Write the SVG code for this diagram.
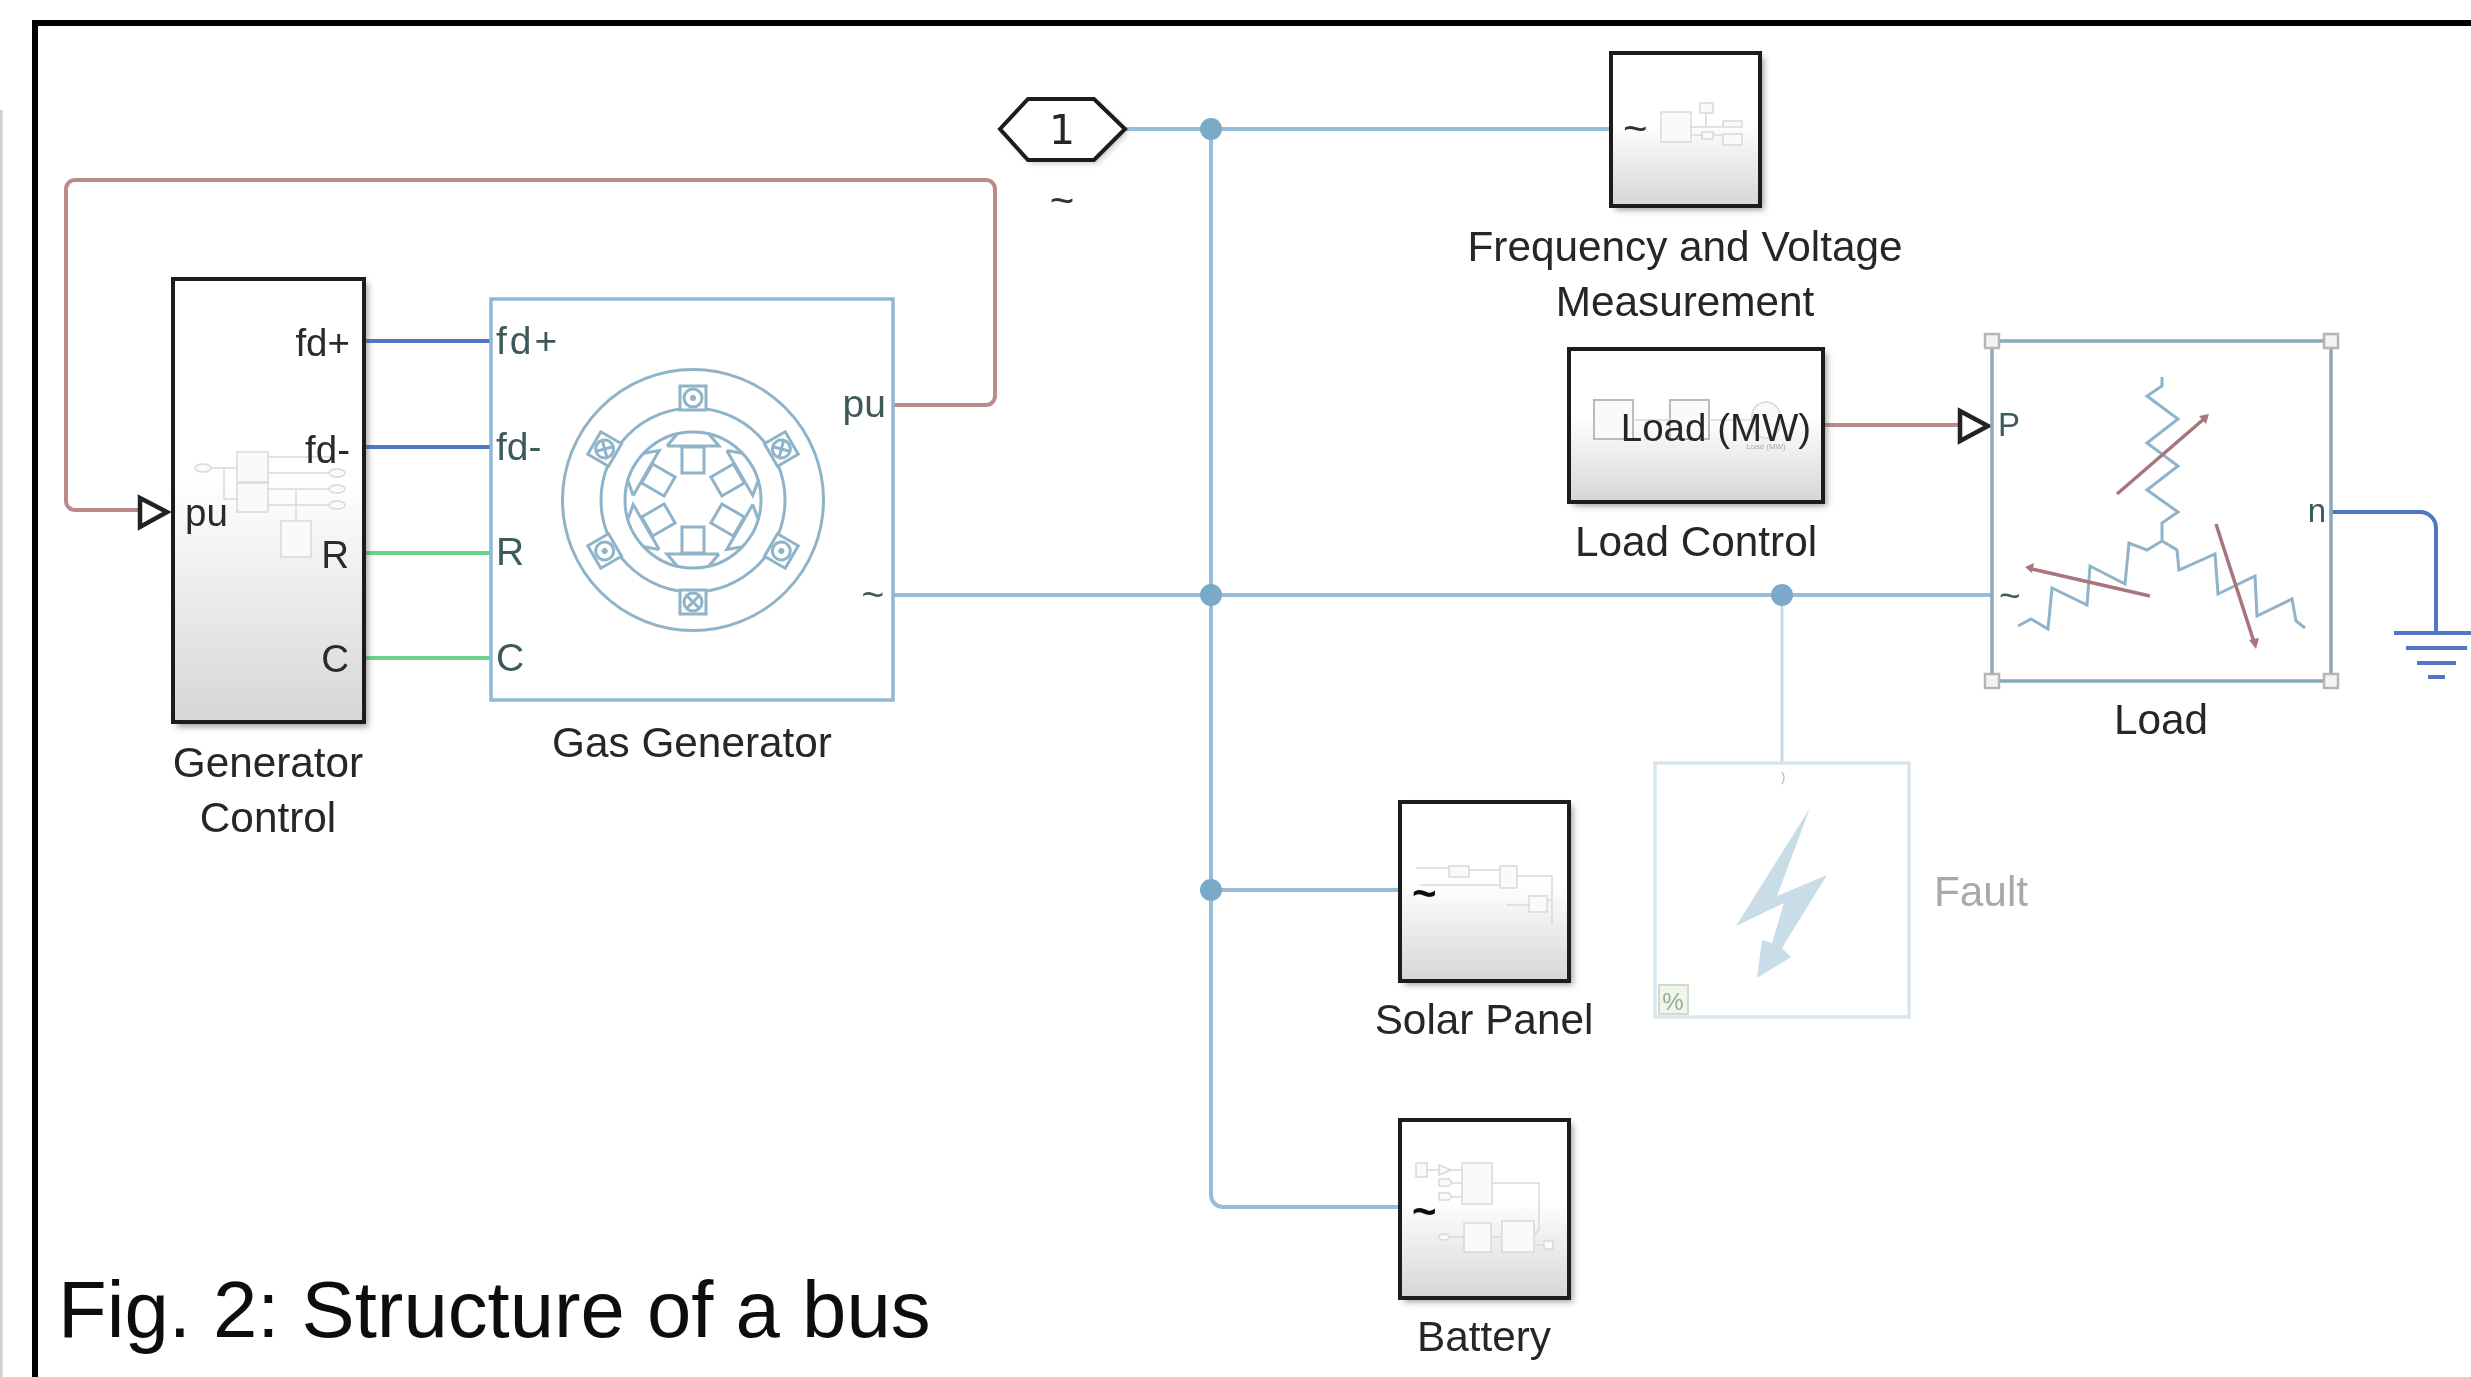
<svg xmlns="http://www.w3.org/2000/svg" width="2471" height="1377" viewBox="0 0 2471 1377">
<style>
text{font-family:"Liberation Sans",Arial,sans-serif;fill:#262626;font-size:42.300px}
.c{text-anchor:middle}.r{text-anchor:end}
.port{font-size:39px;fill:#3d5a5a}
.pb{font-size:38.500px;fill:#2a2a2a}
.tl{font-size:42px;fill:#333}
.sub{fill:url(#g);stroke:#1c1c1c;stroke-width:4}
.shadow{fill:#555;opacity:.55;filter:url(#b)}
.bus{fill:none;stroke:#96bdd7;stroke-width:4}
.red{fill:none;stroke:#bc8a8b;stroke-width:4}
.blue{fill:none;stroke:#4f77c6;stroke-width:4}
.green{fill:none;stroke:#6ad488;stroke-width:4}
.ln{fill:none;stroke:#8fb3c8;stroke-width:3}
.m{fill:none;stroke:#d9d9d9;stroke-width:1.5}
.mf{fill:#fafafa;stroke:#d9d9d9;stroke-width:1.5}
.inp{fill:#fff;stroke:#222;stroke-width:4.5}
.dot{fill:#7aa9c9}
.ra{fill:none;stroke:#a9757c;stroke-width:3.5}
.rh{fill:#a9757c}
.h{fill:#f4f4f4;stroke:#b5b5b5;stroke-width:2.5}
</style>
<defs>
<linearGradient id="g" x1="0" y1="0" x2="0" y2="1"><stop offset="0" stop-color="#fff"/><stop offset=".45" stop-color="#fff"/><stop offset="1" stop-color="#d6d6d6"/></linearGradient>
<filter id="b" x="-10%" y="-10%" width="120%" height="120%"><feGaussianBlur stdDeviation="3"/></filter>
<filter id="soft" filterUnits="userSpaceOnUse" x="0" y="0" width="2471" height="1377"><feGaussianBlur stdDeviation="0.7"/></filter>
<g id="poleDot"><rect x="-13" y="-12" width="26" height="24" fill="#fff" stroke="#8fb3c8" stroke-width="3"/><circle r="9" class="ln"/><circle r="3" fill="#8fb3c8"/></g>
<g id="poleX"><rect x="-13" y="-12" width="26" height="24" fill="#fff" stroke="#8fb3c8" stroke-width="3"/><circle r="9" class="ln"/><path d="M-6-6L6 6M6-6L-6 6" class="ln"/></g>
<g id="slot"><rect x="-11" y="-53" width="22" height="26" class="ln"/><path d="M-26-54H26L15-67M-26-54L-15-67" class="ln"/></g>
</defs>
<rect width="2471" height="1377" fill="#fff"/>
<g id="diagram" filter="url(#soft)">
<path d="M1 110V1377" stroke="#d0d0d0" stroke-width="3" fill="none"/>
<path id="frame" d="M2471 23H35V1377" fill="none" stroke="#000" stroke-width="6"/>

<g id="connectors">
<path class="red" d="M893 405H986a9 9 0 0 0 9-9V189a9 9 0 0 0-9-9H75a9 9 0 0 0-9 9V501a9 9 0 0 0 9 9H139"/>
<path class="blue" d="M364 341H491M364 447H491"/>
<path class="green" d="M364 553H491M364 658H491"/>
<path class="bus" d="M893 595H1992"/>
<path class="bus" d="M1125 129H1611"/>
<path class="bus" d="M1211 129V1195a12 12 0 0 0 12 12H1400"/>
<path class="bus" d="M1211 890H1400"/>
<path d="M1782 595V763" fill="none" stroke="#c4d9e6" stroke-width="3"/>
<path class="red" d="M1823 425H1958"/>
<path class="blue" d="M2331 512H2420a16 16 0 0 1 16 16V633"/>
<circle class="dot" cx="1211" cy="129" r="11"/>
<circle class="dot" cx="1211" cy="595" r="11"/>
<circle class="dot" cx="1211" cy="890" r="11"/>
<circle class="dot" cx="1782" cy="595" r="11"/>
</g>

<g id="generator-control">
<rect class="shadow" x="177" y="283" width="191" height="444"/>
<rect class="sub" x="173" y="279" width="191" height="443"/>
<g class="mini">
<path class="m" d="M211 468H237M224 468V499H237M268 457H330M268 473H330M268 489H330M268 505H330M296 489V521"/>
<rect class="mf" x="237" y="452" width="31" height="30"/><rect class="mf" x="237" y="483" width="31" height="29"/><rect class="mf" x="281" y="521" width="30" height="36"/>
<ellipse class="mf" cx="203" cy="468" rx="8" ry="4"/><ellipse class="mf" cx="337" cy="473" rx="8" ry="4"/><ellipse class="mf" cx="337" cy="489" rx="8" ry="4"/><ellipse class="mf" cx="337" cy="505" rx="8" ry="4"/>
</g>
<text class="pb r" x="350" y="356">fd+</text>
<text class="pb r" x="350" y="463">fd-</text>
<text class="pb" x="185" y="526">pu</text>
<text class="pb r" x="349" y="568">R</text>
<text class="pb r" x="349" y="672">C</text>
<path class="inp" d="M140 498L167 512L140 527Z"/>
<text class="c" x="268" y="777">Generator</text>
<text class="c" x="268" y="832">Control</text>
</g>

<g id="gas-generator">
<rect x="491" y="299" width="402" height="401" fill="#fff" stroke="#8fb8d4" stroke-width="3.500"/>
<text class="port" x="496" y="354" style="letter-spacing:3px">fd+</text>
<text class="port" x="496" y="460">fd-</text>
<text class="port" x="496" y="565">R</text>
<text class="port" x="496" y="671">C</text>
<text class="port r" x="886" y="417">pu</text>
<text class="port c" x="873" y="608">~</text>
<circle cx="693" cy="500" r="130.500" class="ln"/>
<circle cx="693" cy="500" r="92" class="ln"/>
<circle cx="693" cy="500" r="68" class="ln"/>
<g transform="translate(693 500)">
<use href="#slot"/><use href="#slot" transform="rotate(60)"/><use href="#slot" transform="rotate(120)"/><use href="#slot" transform="rotate(180)"/><use href="#slot" transform="rotate(240)"/><use href="#slot" transform="rotate(300)"/>
<use href="#poleDot" transform="rotate(0) translate(0 -102)"/>
<use href="#poleX" transform="rotate(60) translate(0 -102)"/>
<use href="#poleDot" transform="rotate(120) translate(0 -102)"/>
<use href="#poleX" transform="rotate(180) translate(0 -102)"/>
<use href="#poleDot" transform="rotate(240) translate(0 -102)"/>
<use href="#poleX" transform="rotate(300) translate(0 -102)"/>
</g>
<text class="c" x="692" y="757">Gas Generator</text>
</g>

<g id="goto-1">
<path d="M1003 132L1031 163H1097L1128 132L1097 103H1031Z" fill="#888" opacity=".5" filter="url(#b)"/>
<path d="M1000 129L1028 99H1094L1125 129L1094 160H1028Z" fill="#fff" stroke="#1c1c1c" stroke-width="4"/>
<text class="c" x="1062" y="144" style="font-family:'DejaVu Sans',sans-serif;font-size:41px">1</text>
<text class="c tl" x="1062" y="215">~</text>
</g>

<g id="frequency-voltage">
<rect class="shadow" x="1615" y="57" width="149" height="153"/>
<rect class="sub" x="1611" y="53" width="149" height="153"/>
<path class="m" d="M1691 127H1723M1706 113V127M1691 135H1702M1713 135H1723"/>
<rect class="mf" x="1661" y="112" width="30" height="30"/><rect class="mf" x="1700" y="103" width="13" height="10"/><rect class="mf" x="1723" y="121" width="19" height="6"/><rect class="mf" x="1723" y="134" width="19" height="11"/><rect class="mf" x="1702" y="132" width="11" height="7"/>
<text class="tl" x="1623" y="143">~</text>
<text class="c" x="1685" y="261">Frequency and Voltage</text>
<text class="c" x="1685" y="316">Measurement</text>
</g>

<g id="load-control">
<rect class="shadow" x="1573" y="353" width="254" height="153"/>
<rect class="sub" x="1569" y="349" width="254" height="153"/>
<rect x="1594" y="400" width="39" height="39" fill="#fafafa" stroke="#bbb" stroke-width="2"/><rect x="1670" y="400" width="39" height="39" fill="#fafafa" stroke="#bbb" stroke-width="2"/><rect class="mf" x="1752" y="402" width="28" height="36" rx="14"/>
<path class="m" d="M1633 420H1670M1709 420H1752"/>
<text class="c" x="1766" y="449" style="font-size:8px;fill:#aaa">Load (MW)</text>
<text class="c" x="1716" y="441" style="font-size:38.500px">Load (MW)</text>
<text class="c" x="1696" y="556">Load Control</text>
<path class="inp" d="M1960 411L1988 426L1960 441Z"/>
</g>

<g id="load">
<rect x="1992" y="341" width="339" height="340" fill="#fff" stroke="#8aa9b9" stroke-width="3.500"/>
<rect class="h" x="1985" y="334" width="14" height="14"/><rect class="h" x="2324" y="334" width="14" height="14"/><rect class="h" x="1985" y="674" width="14" height="14"/><rect class="h" x="2324" y="674" width="14" height="14"/>
<text x="1998" y="436" style="font-size:33px;fill:#3d5a5a">P</text>
<text class="r" x="2326" y="522" style="font-size:33px;fill:#3d5a5a">n</text>
<text x="1999" y="608" style="font-size:37px;fill:#3d5a5a">~</text>
<path class="ln" d="M2162 377V386L2147 396L2178 419L2147 443L2178 466L2147 490L2178 512L2162 523V541L2147 550L2129 543L2125 584L2090 566L2087 605L2052 588L2048 629L2031 619L2018 626"/>
<path class="ln" d="M2162 541L2177 550L2179 570L2215 554L2218 594L2255 576L2257 616L2292 599L2296 621L2305 628"/>
<path class="ra" d="M2117 494L2205 418M2150 596L2032 569M2216 524L2254 642"/>
<path class="rh" d="M2209 414L2199 416L2206 424ZM2025 567L2034 563L2032 573ZM2256 649L2249 640L2259 638Z"/>
<text class="c" x="2161" y="734">Load</text>
</g>

<g id="ground">
<path class="blue" d="M2394 633H2471M2406 648H2467M2417 663H2456M2428 677H2445"/>
</g>

<g id="solar-panel">
<rect class="shadow" x="1404" y="806" width="169" height="179"/>
<rect class="sub" x="1400" y="802" width="169" height="179"/>
<path class="m" d="M1416 868H1449M1420 885H1500M1469 870H1500M1517 876H1552V925M1507 905H1529M1547 900H1552"/>
<rect class="mf" x="1449" y="866" width="20" height="11"/><rect class="mf" x="1500" y="866" width="17" height="22"/><rect class="mf" x="1529" y="896" width="18" height="16"/>
<text class="tl" x="1412" y="908" style="fill:#111;font-weight:bold">~</text>
<text class="c" x="1484" y="1034">Solar Panel</text>
</g>

<g id="battery">
<rect class="shadow" x="1404" y="1124" width="169" height="178"/>
<rect class="sub" x="1400" y="1120" width="169" height="178"/>
<path class="m" d="M1427 1170H1439M1451 1170H1462M1451 1183H1462M1451 1197H1462M1492 1183H1539V1229L1534 1236M1449 1237H1464M1491 1237H1502M1534 1245H1544"/>
<rect class="mf" x="1416" y="1163" width="11" height="14"/><path class="mf" d="M1439 1165L1451 1170L1439 1175ZM1439 1179H1449L1452 1183L1449 1186H1439ZM1439 1193H1449L1452 1197L1449 1200H1439Z"/>
<rect class="mf" x="1462" y="1163" width="30" height="41"/><rect class="mf" x="1464" y="1223" width="27" height="29"/><rect class="mf" x="1502" y="1221" width="32" height="31"/><rect class="mf" x="1544" y="1241" width="9" height="8"/><ellipse class="mf" cx="1444" cy="1237" rx="5" ry="3"/>
<text class="tl" x="1412" y="1226" style="fill:#111;font-weight:bold">~</text>
<text class="c" x="1484" y="1351">Battery</text>
</g>

<g id="fault">
<rect x="1655" y="763" width="254" height="254" fill="#fff" stroke="#d9e6ee" stroke-width="3.500"/>
<path d="M1782 772Q1786 778 1782 784" fill="none" stroke="#b5c7d0" stroke-width="1.500"/>
<path d="M1810 808L1736 926L1784 903L1772 943L1762 940L1757 978L1791 957L1782 948L1827 875L1777 896Z" fill="#c9dde9"/>
<rect x="1659" y="985" width="29" height="29" fill="#f0f6ee" stroke="#cfdccb" stroke-width="2"/>
<text class="c" x="1673" y="1010" style="font-size:24px;fill:#93ad93">%</text>
<text x="1934" y="906" style="fill:#a9a9a9">Fault</text>
</g>

<text id="caption" x="58" y="1337" style="font-size:79.700px;fill:#111">Fig. 2: Structure of a bus</text>
</g>
</svg>
